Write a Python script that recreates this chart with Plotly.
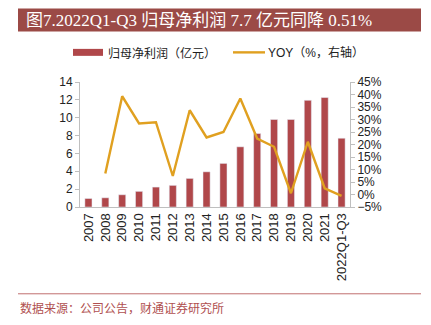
import plotly.graph_objects as go

categories = ["2007", "2008", "2009", "2010", "2011", "2012", "2013", "2014",
              "2015", "2016", "2017", "2018", "2019", "2020", "2021", "2022Q1-Q3"]
profit = [0.95, 1.03, 1.37, 1.75, 2.23, 2.42, 3.2, 3.94,
          4.88, 6.74, 8.23, 9.8, 9.8, 11.95, 12.26, 7.7]
yoy = [None, 8.4, 39.3, 28.4, 28.9, 7.4, 33.7, 22.8,
       25.0, 38.4, 22.4, 19.1, 0.5, 21.1, 2.5, -0.51]

BAR = "#B0474A"
LINE = "#E0A020"
TITLE_BG = "#9B4A46"
AX = "#BFBFBF"

fig = go.Figure()
fig.add_trace(go.Bar(x=categories, y=profit, name="归母净利润（亿元）",
                     marker=dict(color=BAR), width=0.42, yaxis="y", showlegend=False))
fig.add_trace(go.Scatter(x=categories, y=yoy, name="YOY（%，右轴）", mode="lines",
                         line=dict(color=LINE, width=2.4), yaxis="y2", showlegend=False))

PW, PH, L, B0 = 270, 125.3, 80, 207
def px(x): return (x - L) / PW
def py(y): return (B0 - y) / PH

tickfont = dict(family="Liberation Sans, Arial", size=12, color="#222")
xtickfont = dict(family="Liberation Sans, Arial", size=13, color="#222")
fig.update_layout(
    width=431, height=325,
    margin=dict(l=80, r=81, t=82, b=118),
    paper_bgcolor="white", plot_bgcolor="white",
    xaxis=dict(type="category", tickangle=-90, tickfont=xtickfont, showline=True,
               linecolor=AX, linewidth=1, ticks="", showgrid=False),
    yaxis=dict(range=[0, 14], dtick=2, tickfont=tickfont, showline=True, linecolor=AX,
               ticks="outside", tickcolor=AX, ticklen=4, showgrid=False, zeroline=False),
    yaxis2=dict(range=[-5, 45], dtick=5, ticksuffix="%", overlaying="y", side="right",
                tickfont=tickfont, showline=True, linecolor=AX, ticks="outside",
                tickcolor=AX, ticklen=4, showgrid=False, zeroline=False),
)

# title bar
fig.add_shape(type="rect", xref="paper", yref="paper", x0=px(18), x1=px(421),
              y0=py(31), y1=py(8), fillcolor=TITLE_BG, line=dict(width=0), layer="below")
fig.add_annotation(text="图7.2022Q1-Q3 归母净利润 7.7 亿元同降 0.51%", xref="paper", yref="paper",
                   x=px(24), y=py(20), xanchor="left", yanchor="middle",
                   showarrow=False, font=dict(family="Liberation Serif, Noto Sans CJK SC", size=17, color="white"))

# legend (drawn)
fig.add_shape(type="rect", xref="paper", yref="paper", x0=px(73), x1=px(103),
              y0=py(55.5), y1=py(48.5), fillcolor=BAR, line=dict(width=0))
fig.add_annotation(text="归母净利润（亿元）", xref="paper", yref="paper", x=px(106), y=py(52),
                   xanchor="left", yanchor="middle", showarrow=False,
                   font=dict(family="Noto Sans CJK SC", size=12, color="#222"))
fig.add_shape(type="line", xref="paper", yref="paper", x0=px(233), x1=px(265),
              y0=py(52), y1=py(52), line=dict(color=LINE, width=2.4))
fig.add_annotation(text="YOY（%，右轴）", xref="paper", yref="paper", x=px(266), y=py(52),
                   xanchor="left", yanchor="middle", showarrow=False,
                   font=dict(family="Liberation Sans, Noto Sans CJK SC", size=12, color="#222"))

# bottom rule and source
fig.add_shape(type="line", xref="paper", yref="paper", x0=px(18), x1=px(421),
              y0=py(294), y1=py(294), line=dict(color="#C07070", width=1))
fig.add_annotation(text="数据来源：公司公告，财通证券研究所", xref="paper", yref="paper",
                   x=px(18), y=py(308), xanchor="left", yanchor="middle",
                   showarrow=False, font=dict(family="Noto Sans CJK SC", size=12, color="#B05050"))

fig.write_html("out.html")
